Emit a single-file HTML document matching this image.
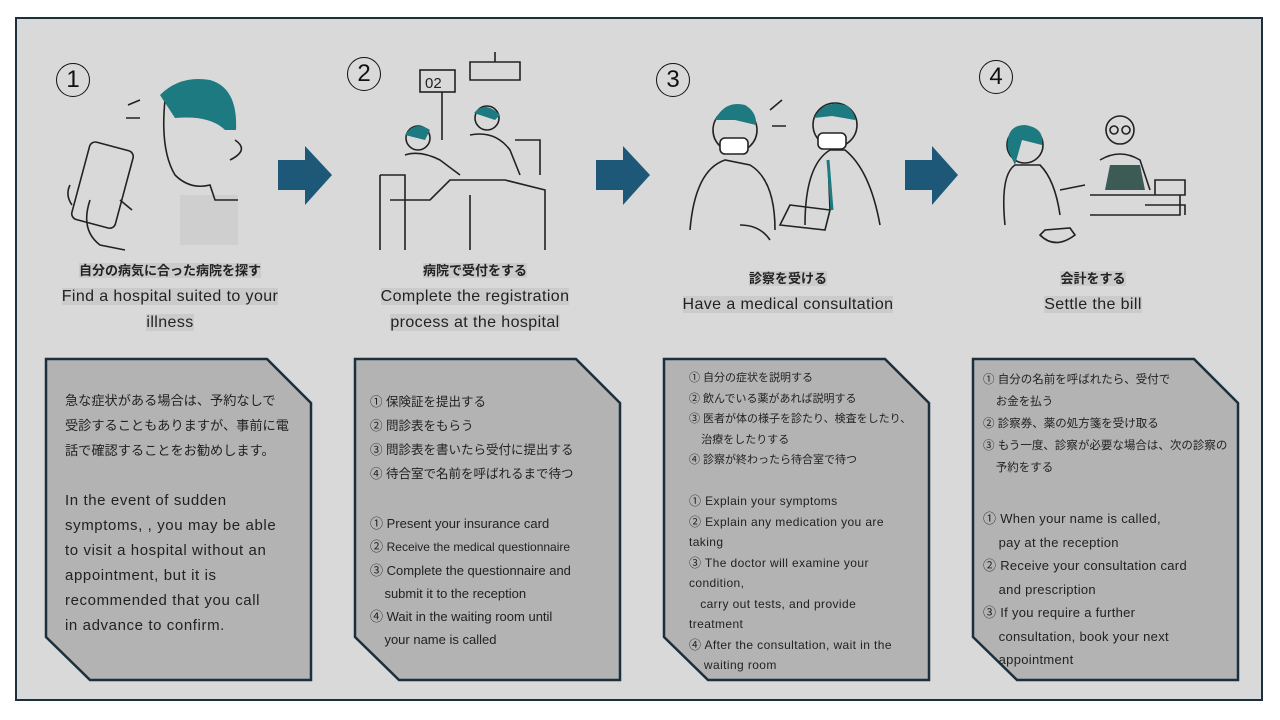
<!DOCTYPE html>
<html><head><meta charset="utf-8"><style>
body{margin:0;width:1280px;height:720px;background:#fff;position:relative;overflow:hidden;font-family:"Liberation Sans","Noto Sans CJK JP",sans-serif;color:#222}
.frame{position:absolute;left:15px;top:17px;width:1248px;height:684px;background:#d9d9d9;border:2px solid #1b2f3c;box-sizing:border-box}
.a{position:absolute}
.num{position:absolute;width:32px;height:32px;border:1.5px solid #111;border-radius:50%;font-size:24px;line-height:32px;text-align:center;color:#111}
.t{position:absolute;text-align:center;line-height:26px;font-size:16px;white-space:nowrap;letter-spacing:0.4px}
.t span{background:#cbcbcb}
.t .j{font-size:13px;font-weight:bold;letter-spacing:0}
.box{position:absolute;font-size:13px;white-space:nowrap}
.box p{margin:0}
</style></head><body>
<div class="frame"></div>
<svg class="a" style="left:0;top:0" width="1280" height="720">
 <g fill="#b3b3b3" stroke="#1b2f3c" stroke-width="2.5">
  <polygon points="46,359 267,359 311,403 311,680 90,680 46,637"/>
  <polygon points="355,359 576,359 620,403 620,680 399,680 355,637"/>
  <polygon points="664,359 885,359 929,403 929,680 708,680 664,637"/>
  <polygon points="973,359 1194,359 1238,403 1238,680 1017,680 973,637"/>
 </g>
 <g fill="#1e5878">
  <polygon points="278,160 305,160 305,146 332,175 305,205 305,190 278,190"/>
  <polygon points="596,160 623,160 623,146 650,175 623,205 623,190 596,190"/>
  <polygon points="905,160 932,160 932,146 958,175 932,205 932,190 905,190"/>
 </g>
 <g fill="none" stroke="#222" stroke-width="1.6">
  <rect x="180" y="195" width="58" height="50" fill="#cfcfcf" stroke="none"/>
  <path d="M165,100 Q160,150 175,175 Q190,190 210,185 L215,200 L238,200 M235,140 Q250,150 230,160"/>
  <rect x="80" y="145" width="45" height="80" rx="6" transform="rotate(15 102 185)"/>
  <path d="M90,200 Q80,230 100,245 L125,250 M120,200 L132,210"/>
  <path d="M70,185 Q65,195 72,205 M128,105 L140,100 M126,118 L140,118"/>
 </g>
 <path d="M160,95 Q180,75 210,80 Q238,88 236,130 L225,130 Q210,115 175,118 Z" fill="#1d7a80"/>
 <g fill="none" stroke="#222" stroke-width="1.6">
  <rect x="420" y="70" width="35" height="22"/><text x="425" y="88" font-size="15" fill="#222" stroke="none">02</text>
  <path d="M442,92 L442,140 M470,80 L520,80 L520,62 L470,62 Z M495,62 L495,52"/>
  <path d="M380,175 L380,250 M380,175 L405,175 L405,250 M390,200 L430,200 L450,180 L505,180 L545,190 L545,250 M470,195 L470,250"/>
  <circle cx="418" cy="138" r="12"/><circle cx="487" cy="118" r="12"/>
  <path d="M405,155 Q420,150 440,160 L460,175 M470,135 Q495,130 510,150 L520,175 M515,140 L540,140 L540,175"/>
 </g>
 <path d="M405,135 Q415,120 430,130 L425,140 Z M474,113 Q485,100 500,115 L495,120 Z" fill="#1d7a80"/>
 <g fill="none" stroke="#222" stroke-width="1.6">
  <circle cx="735" cy="130" r="22"/><circle cx="835" cy="125" r="22"/>
  <rect x="720" y="138" width="28" height="16" rx="5" fill="#fff"/><rect x="818" y="133" width="28" height="16" rx="5" fill="#fff"/>
  <path d="M690,230 Q695,170 725,160 L750,165 Q775,180 775,230 M805,225 Q805,165 830,150 L845,150 Q870,170 880,225 M828,160 L830,210 M770,110 L782,100 M772,126 L786,126"/>
  <path d="M740,225 Q760,225 770,240 M790,205 L830,210 L825,230 L780,225 Z"/>
 </g>
 <path d="M715,120 Q725,100 745,105 Q757,112 756,125 L735,120 Z M814,118 Q825,98 848,106 Q856,115 855,120 L832,116 Z" fill="#1d7a80"/>
 <path d="M828,160 L832,210" stroke="#1d7a80" stroke-width="3"/>
 <g fill="none" stroke="#222" stroke-width="1.6">
  <circle cx="1025" cy="145" r="18"/><circle cx="1120" cy="130" r="14"/>
  <circle cx="1114" cy="130" r="4"/><circle cx="1126" cy="130" r="4"/>
  <path d="M1005,225 Q1000,175 1015,165 L1040,165 Q1055,180 1060,215 M1090,195 L1180,195 L1180,215 L1090,215 M1100,160 Q1120,148 1140,160 L1150,190 M1155,180 L1185,180 L1185,195 L1155,195 Z M1145,205 L1185,205 L1185,215"/>
  <path d="M1040,235 Q1055,250 1075,235 L1070,228 L1045,230 Z M1060,190 L1085,185"/>
 </g>
 <path d="M1008,150 Q1005,125 1025,125 Q1045,128 1042,145 L1022,140 L1015,165 Z" fill="#1d7a80"/>
 <path d="M1110,165 L1140,165 L1145,190 L1105,190 Z" fill="#3d5b55"/>
</svg>
<div class="num" style="left:56px;top:63px">1</div>
<div class="num" style="left:347px;top:57px">2</div>
<div class="num" style="left:656px;top:63px">3</div>
<div class="num" style="left:979px;top:60px">4</div>

<div class="t" style="left:20px;top:258px;width:300px"><span class="j">自分の病気に合った病院を探す</span><br><span>Find a hospital suited to your </span><br><span>illness</span></div>
<div class="t" style="left:325px;top:258px;width:300px"><span class="j">病院で受付をする</span><br><span>Complete the registration </span><br><span>process at the hospital</span></div>
<div class="t" style="left:638px;top:266px;width:300px"><span class="j">診察を受ける</span><br><span>Have a medical consultation</span></div>
<div class="t" style="left:943px;top:266px;width:300px"><span class="j">会計をする</span><br><span>Settle the bill</span></div>

<div class="box" style="left:65px;top:388px;font-size:13.2px;line-height:25px">
<p>急な症状がある場合は、予約なしで<br>受診することもありますが、事前に電<br>話で確認することをお勧めします。</p><br>
<p style="font-size:15px;letter-spacing:0.6px">In the event of sudden<br>symptoms, , you may be able<br>to visit a hospital without an<br>appointment, but it is<br>recommended that you call<br>in advance to confirm.</p></div>

<div class="box" style="left:370px;top:390px;font-size:12.5px;line-height:24px">
<p>① 保険証を提出する<br>② 問診表をもらう<br>③ 問診表を書いたら受付に提出する<br>④ 待合室で名前を呼ばれるまで待つ</p>
<p style="font-size:13px;line-height:23px;margin-top:26px">① Present your insurance card<br>② <span style="font-size:12px">Receive the medical questionnaire</span><br>③ Complete the questionnaire and<br>&nbsp;&nbsp;&nbsp;&nbsp;submit it to the reception<br>④ Wait in the waiting room until<br>&nbsp;&nbsp;&nbsp;&nbsp;your name is called</p></div>

<div class="box" style="left:689px;top:368px;font-size:11px;line-height:20.5px">
<p>① 自分の症状を説明する<br>② 飲んでいる薬があれば説明する<br>③ 医者が体の様子を診たり、検査をしたり、<br>&nbsp;&nbsp;&nbsp;&nbsp;治療をしたりする<br>④ 診察が終わったら待合室で待つ</p><br>
<p style="font-size:12px;letter-spacing:0.4px">① Explain your symptoms<br>② Explain any medication you are<br>taking<br>③ The doctor will examine your<br>condition,<br>&nbsp;&nbsp;&nbsp;carry out tests, and provide<br>treatment<br>④ After the consultation, wait in the<br>&nbsp;&nbsp;&nbsp;&nbsp;waiting room</p></div>

<div class="box" style="left:983px;top:369px;font-size:11.5px;line-height:22px">
<p>① 自分の名前を呼ばれたら、受付で<br>&nbsp;&nbsp;&nbsp;&nbsp;お金を払う<br>② 診察券、薬の処方箋を受け取る<br>③ もう一度、診察が必要な場合は、次の診察の<br>&nbsp;&nbsp;&nbsp;&nbsp;予約をする</p>
<p style="font-size:13px;line-height:23.5px;margin-top:28px;letter-spacing:0.3px">① When your name is called,<br>&nbsp;&nbsp;&nbsp;&nbsp;pay at the reception<br>② Receive your consultation card<br>&nbsp;&nbsp;&nbsp;&nbsp;and prescription<br>③ If you require a further<br>&nbsp;&nbsp;&nbsp;&nbsp;consultation, book your next<br>&nbsp;&nbsp;&nbsp;&nbsp;appointment</p></div>
</body></html>
